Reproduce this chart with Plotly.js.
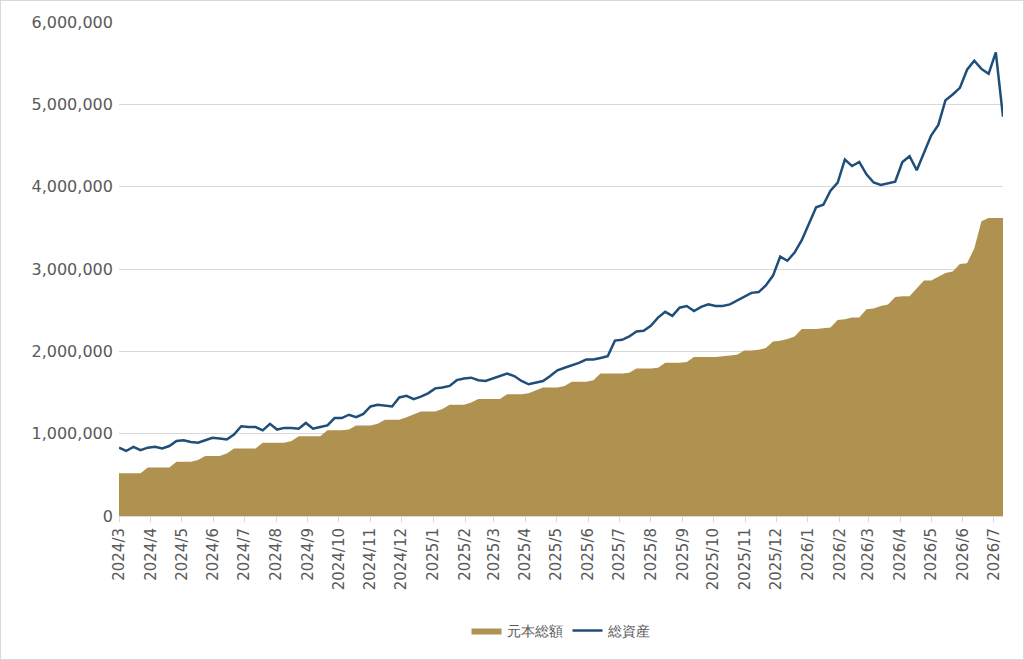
<!DOCTYPE html>
<html><head><meta charset="utf-8">
<script src="https://cdn.plot.ly/plotly-3.0.1.min.js"></script>
<style>body{margin:0;background:#fff}#c{width:1022px;height:658px;border:1px solid #d9d9d9}</style>
</head><body><div id="c"></div>
<script>
const startDate = '2024-03-01';
const principal = [
.52,.52,.52,.52, .59,.59,.59,.59, .66,.66,.66,.68, .73,.73,.73,.76, .82,.82,.82,.82,.89,
.89,.89,.89,.91, .97,.97,.97,.97, 1.04,1.04,1.04,1.05,1.10, 1.10,1.10,1.12,1.17,1.17,
1.17,1.20,1.24,1.27,1.27, 1.27,1.30,1.35,1.35, 1.35,1.38,1.42,1.42, 1.42,1.42,1.48,1.48,
1.48,1.49,1.53,1.56,1.56, 1.56,1.58,1.63,1.63, 1.63,1.65,1.73,1.73, 1.73,1.73,1.74,1.79,1.79,
1.79,1.80,1.86,1.86, 1.86,1.87,1.93,1.93, 1.93,1.93,1.94,1.95,1.96, 2.01,2.01,2.02,2.04,
2.12,2.13,2.15,2.18,2.27, 2.27,2.27,2.28,2.29,2.38, 2.39,2.41,2.41,2.51,2.52,
2.55,2.57,2.66,2.67, 2.67,2.76,2.86,2.86, 2.90,2.95,2.97,3.06,3.07, 3.25,3.58,3.62,3.62, 3.62];
const total = [
.83,.79,.84,.80, .83,.84,.82,.85, .91,.92,.90,.89, .92,.95,.94,.93, .99,1.09,1.08,1.08,1.04,
1.12,1.05,1.07,1.07, 1.06,1.13,1.06,1.08, 1.10,1.19,1.19,1.23,1.20, 1.24,1.33,1.35,1.34,1.33,
1.44,1.46,1.42,1.45,1.49, 1.55,1.56,1.58,1.65, 1.67,1.68,1.65,1.64, 1.67,1.70,1.73,1.70,
1.64,1.60,1.62,1.64,1.70, 1.77,1.80,1.83,1.86, 1.90,1.90,1.92,1.94, 2.13,2.14,2.18,2.24,2.25,
2.31,2.41,2.48,2.43, 2.53,2.55,2.49,2.54, 2.57,2.55,2.55,2.57,2.62, 2.66,2.71,2.72,2.80,
2.92,3.15,3.10,3.20,3.35, 3.55,3.75,3.78,3.95,4.05, 4.33,4.25,4.30,4.15,4.05,
4.02,4.04,4.06,4.30, 4.37,4.20,4.40,4.62, 4.75,5.05,5.12,5.20,5.42, 5.53,5.43,5.37,5.63, 4.85];
const names = ['元本総額','総資産'];
const dates = principal.map((_, i) => {
  const d = new Date(startDate + 'T00:00:00Z'); d.setUTCDate(d.getUTCDate() + 7 * i);
  return d.toISOString().slice(0, 10);
});
const M = v => v.map(x => Math.round(x * 1e6));
const font = {family: 'Verdana, DejaVu Sans, sans-serif', color: '#595959', size: 15};
Plotly.newPlot('c', [
  {x: dates, y: M(principal), name: names[0], type: 'scatter', mode: 'lines',
   fill: 'tozeroy', fillcolor: '#B09250', line: {width: 0, color: '#B09250'}},
  {x: dates, y: M(total), name: names[1], type: 'scatter', mode: 'lines',
   line: {width: 2.5, color: '#1F4E79'}}
], {
  width: 1022, height: 658, margin: {l: 118, r: 20, t: 21, b: 134},
  paper_bgcolor: '#fff', plot_bgcolor: '#fff', font: font, showlegend: true,
  legend: {orientation: 'h', x: 0.5, xanchor: 'center', y: -0.2, yanchor: 'top', font: {size: 14, color: '#595959'}},
  xaxis: {type: 'date', range: ['2024-03-01', dates[dates.length - 1]], dtick: 'M1', tick0: '2024-03-01',
    tickformat: '%Y/%-m', tickangle: -90, showgrid: false, ticks: 'outside', ticklen: 5, tickcolor: '#d9d9d9',
    showline: true, linecolor: '#d9d9d9', tickfont: {size: 15, color: '#595959'}},
  yaxis: {range: [0, 6000000], dtick: 1000000, tickformat: ',d', gridcolor: '#d9d9d9', zeroline: false,
    tickfont: {size: 16, color: '#595959'}, ticksuffix: ' '}
}, {displayModeBar: false});
</script></body></html>
